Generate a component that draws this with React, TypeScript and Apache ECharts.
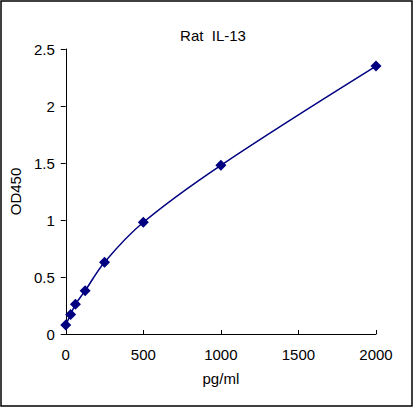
import React, { useEffect, useRef } from 'react';
import * as echarts from 'echarts';

const concentrations = [0, 31.25, 62.5, 125, 250, 500, 1000, 2000];
const odValues = [0.08, 0.17, 0.26, 0.38, 0.63, 0.98, 1.48, 2.35];
const chartTitle = 'Rat  IL-13';

const FONT = 'Arial, "Liberation Sans", sans-serif';
const NAVY = '#000080';

export default function App() {
  const chartRef = useRef<HTMLDivElement>(null);

  useEffect(() => {
    if (!chartRef.current) return;
    const chart = echarts.init(chartRef.current, null, { renderer: 'svg' });

    const textStyle = { color: '#000', fontFamily: FONT, fontSize: 15 };

    chart.setOption({
      animation: false,
      backgroundColor: '#fff',
      title: {
        text: chartTitle,
        left: 208,
        top: 23,
        textAlign: 'center',
        textStyle: { ...textStyle, fontWeight: 'normal' }
      },
      graphic: [
        {
          type: 'rect',
          shape: { x: 1, y: 1, width: 411, height: 405 },
          style: { fill: 'none', stroke: '#000', lineWidth: 1.5 },
          silent: true
        }
      ],
      grid: { left: 64, right: 40, top: 49, bottom: 75 },
      xAxis: {
        type: 'value',
        min: 0,
        max: 2000,
        interval: 500,
        name: 'pg/ml',
        nameLocation: 'middle',
        nameGap: 37,
        nameTextStyle: textStyle,
        axisLine: { lineStyle: { color: '#000', width: 1 } },
        axisTick: { inside: true, length: 4, lineStyle: { color: '#000' } },
        axisLabel: { ...textStyle, margin: 13, formatter: (v: number) => String(v) },
        splitLine: { show: false }
      },
      yAxis: {
        type: 'value',
        min: 0,
        max: 2.5,
        interval: 0.5,
        name: 'OD450',
        nameLocation: 'middle',
        nameGap: 41,
        nameTextStyle: textStyle,
        axisLine: { show: true, lineStyle: { color: '#000', width: 1 } },
        axisTick: { show: true, inside: false, length: 5, lineStyle: { color: '#000' } },
        axisLabel: { ...textStyle, margin: 11, formatter: (v: number) => String(v) },
        splitLine: { show: false }
      },
      series: [
        {
          type: 'line',
          data: concentrations.map((c, i) => [c, odValues[i]]),
          smooth: 0.35,
          symbol: 'diamond',
          symbolSize: 11,
          itemStyle: { color: NAVY },
          lineStyle: { color: NAVY, width: 1.5 }
        }
      ]
    });

    return () => {
      chart.dispose();
    };
  }, []);

  return (
    <div
      ref={chartRef}
      style={{ position: 'fixed', left: 0, top: 0, width: 416, height: 409 }}
    />
  );
}
